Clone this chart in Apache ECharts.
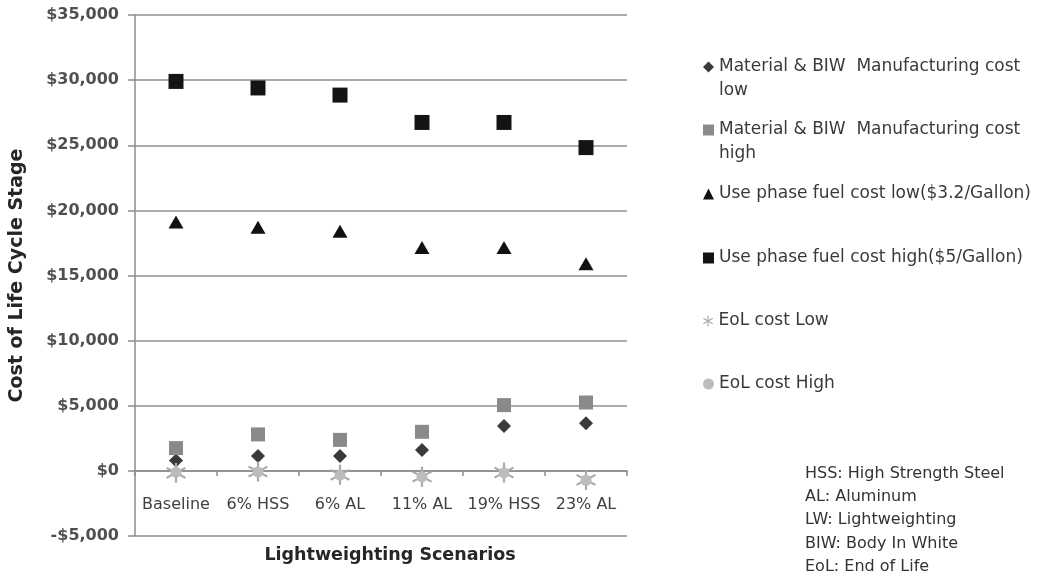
<!DOCTYPE html>
<html>
<head>
<meta charset="utf-8">
<script src="https://cdn.jsdelivr.net/npm/echarts@6/dist/echarts.min.js"></script>
<style>
  html, body { margin: 0; padding: 0; background: #fff; }
  #chart { width: 1041px; height: 588px; }
</style>
</head>
<body>
<div id="chart"></div>
<script>
// Lightweighting scenarios on the category axis
const scenarios = ['Baseline', '6% HSS', '6% AL', '11% AL', '19% HSS', '23% AL'];

// Cost per life cycle stage (USD)
const materialLow  = [800, 1150, 1150, 1600, 3450, 3650];
const materialHigh = [1750, 2800, 2380, 3000, 5050, 5250];
const fuelLow      = [19100, 18700, 18400, 17150, 17150, 15900];
const fuelHigh     = [29900, 29400, 28850, 26750, 26750, 24820];
const eolLow       = [-150, -50, -300, -450, -130, -700];
const eolHigh      = [-100, -80, -320, -450, -150, -720];

// Value axis ticks
const yMin = -5000, yMax = 35000, yStep = 5000;

// Abbreviations listed under the legend
const notes = ['HSS: High Strength Steel', 'AL: Aluminum', 'LW: Lightweighting', 'BIW: Body In White', 'EoL: End of Life'];

const FONT = '"DejaVu Sans", Verdana, sans-serif';

// six-armed asterisk built from three thin bars
const asterisk = 'path://M-1,-10L1,-10L1,10L-1,10Z' +
  'M-9.16,-4.13L-8.16,-5.87L9.16,4.13L8.16,5.87Z' +
  'M8.16,-5.87L9.16,-4.13L-8.16,5.87L-9.16,4.13Z';

// Legend rows: a leading blank line keeps the icon level with the first line of two-line entries
const seriesDefs = [
  { name: 'Material & BIW Manufacturing cost low',  data: materialLow,  symbol: 'diamond',  size: 14, color: '#3a3a3a', label: '\nMaterial & BIW  Manufacturing cost\nlow', y: 67, two: true },
  { name: 'Material & BIW Manufacturing cost high', data: materialHigh, symbol: 'rect',     size: 14, color: '#8a8a8a', label: '\nMaterial & BIW  Manufacturing cost\nhigh', y: 130, two: true },
  { name: 'Use phase fuel cost low($3.2/Gallon)',  data: fuelLow,      symbol: 'triangle', size: [15, 13], color: '#111111', label: 'Use phase fuel cost low($3.2/Gallon)', y: 194 },
  { name: 'Use phase fuel cost high($5/Gallon)',   data: fuelHigh,     symbol: 'rect',     size: 15, color: '#141414', label: 'Use phase fuel cost high($5/Gallon)', y: 258 },
  { name: 'EoL cost Low',  data: eolLow,  symbol: asterisk, size: 20, color: '#a8a8a8', label: 'EoL cost Low', y: 321 },
  { name: 'EoL cost High', data: eolHigh, symbol: 'circle', size: 11, color: '#bcbcbc', label: 'EoL cost High', y: 384 }
];

const series = seriesDefs.map(d => ({
  name: d.name,
  type: 'scatter',
  data: d.data,
  symbol: d.symbol,
  symbolSize: d.size,
  itemStyle: { color: d.color, opacity: 1 },
  emphasis: { disabled: true }
}));

const legends = seriesDefs.map(d => ({
  data: [d.name],
  orient: 'vertical',
  left: 703,
  top: d.two ? d.y - 36 : d.y - 12,
  padding: 0,
  itemWidth: 11,
  itemHeight: 11,
  itemGap: 0,
  selectedMode: false,
  formatter: () => d.label,
  textStyle: {
    fontFamily: FONT,
    fontSize: 17,
    color: '#3a3a3a',
    lineHeight: 24
  }
}));

const fmtMoney = v => (v < 0 ? '-$' : '$') + Math.abs(v).toLocaleString('en-US');

const chart = echarts.init(document.getElementById('chart'), null, { renderer: 'canvas' });
chart.setOption({
  animation: false,
  backgroundColor: '#ffffff',
  grid: { left: 135, right: 414, top: 15, bottom: 52, containLabel: false },
  xAxis: {
    type: 'category',
    data: scenarios,
    boundaryGap: true,
    axisLine: { onZero: true, lineStyle: { color: '#8c8c8c', width: 1.5 } },
    axisTick: { show: true, inside: false, length: 5, alignWithLabel: false, lineStyle: { color: '#8c8c8c', width: 1.5 } },
    axisLabel: { margin: -39, fontFamily: FONT, fontSize: 16, color: '#404040', interval: 0 },
    splitLine: { show: false }
  },
  yAxis: {
    type: 'value',
    min: yMin,
    max: yMax,
    interval: yStep,
    name: 'Cost of Life Cycle Stage',
    nameLocation: 'middle',
    nameGap: 108,
    nameRotate: 90,
    nameTextStyle: { fontFamily: FONT, fontSize: 19, fontWeight: 'bold', color: '#262626' },
    axisLine: { show: true, lineStyle: { color: '#8c8c8c', width: 1.5 } },
    axisTick: { show: true, length: 7, lineStyle: { color: '#8c8c8c', width: 1.5 } },
    axisLabel: { margin: 16, padding: [4, 0, 0, 0], fontFamily: FONT, fontSize: 16, fontWeight: 'bold', color: '#505050', formatter: fmtMoney },
    splitLine: { show: true, lineStyle: { color: '#8f8f8f', width: 1.5 } }
  },
  legend: legends,
  graphic: [
    {
      type: 'text',
      x: 390,
      y: 555,
      style: { text: 'Lightweighting Scenarios', align: 'center', verticalAlign: 'middle', fontFamily: FONT, fontSize: 17.5, fontWeight: 'bold', fill: '#262626' }
    },
    {
      type: 'text',
      x: 805,
      y: 462,
      style: { text: notes.join('\n'), fontFamily: FONT, fontSize: 16, lineHeight: 23.3, fill: '#333333' }
    }
  ],
  series: series
});
</script>
</body>
</html>
